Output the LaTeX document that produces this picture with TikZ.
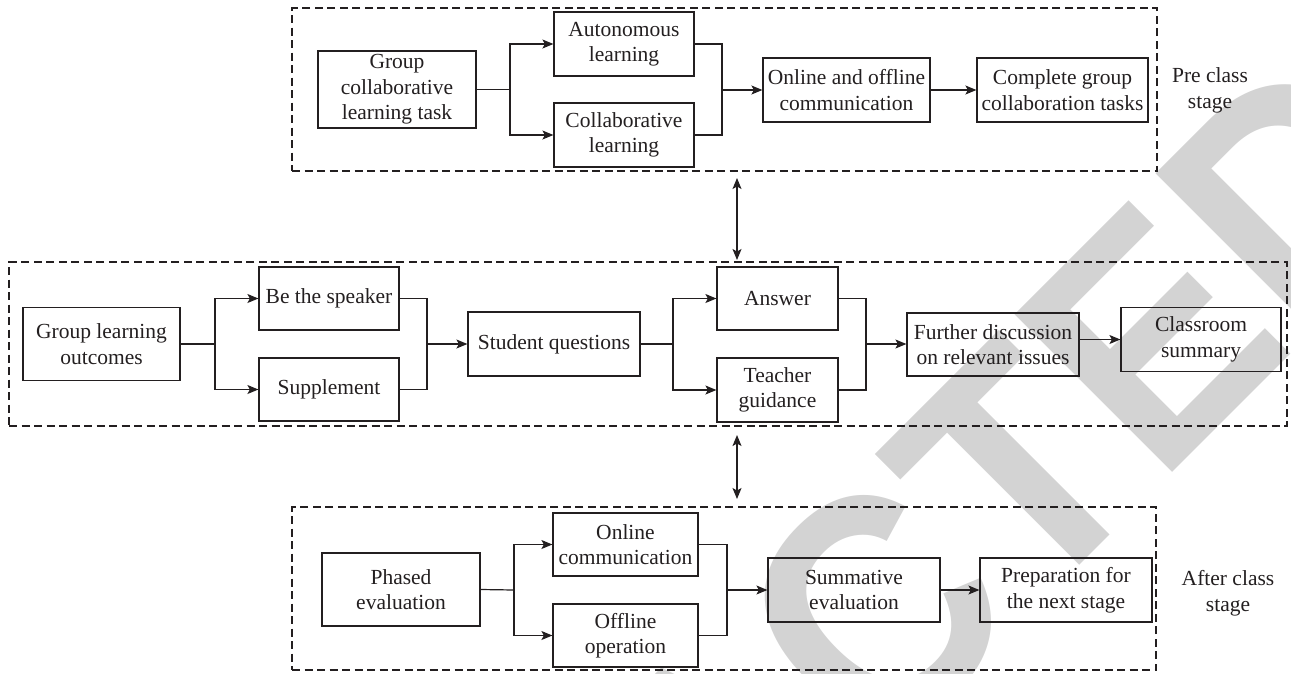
\documentclass[tikz,border=0pt]{standalone}
\usepackage{fontspec}
\setmainfont{Liberation Serif}
\newfontfamily\stampfont{Liberation Sans}[FakeStretch=0.92]
\usetikzlibrary{arrows.meta}
\definecolor{ink}{RGB}{35,31,32}
\definecolor{stampgray}{RGB}{211,211,211}
\begin{document}
\begin{tikzpicture}[x=1pt,y=-1pt,
  every node/.style={text=ink},
  box/.style={draw=ink,line width=1.2pt,inner sep=0pt,align=center,
    font=\fontsize{21.5}{25.5}\selectfont},
  label/.style={inner sep=0pt,align=center,font=\fontsize{21.5}{25.5}\selectfont},
  stagebox/.style={draw=ink,line width=1.1pt,dash pattern=on 8pt off 4.5pt,inner sep=0pt},
  line/.style={draw=ink,line width=1.2pt},
  tip/.tip={Stealth[length=11pt,width=9pt,inset=2.5pt]},
  arr/.style={line,-tip},
  darr/.style={line,tip-tip},
  stamp/.style={text=stampgray,inner sep=0pt,rotate=45,
    font=\stampfont\bfseries\fontsize{324}{324}\selectfont}]
\useasboundingbox (0,0) rectangle (1291,673);

% background stamp
\begin{scope}
  \clip (0,0) rectangle (1291,673);
  \coordinate (sp) at (1030,615);
  \node[stamp,anchor=base east] (st1) at (sp) {RETRAC};
  \node[stamp,anchor=base west] (st2) at (sp) {TED};
\end{scope}

% stage frames
\node[stagebox,minimum width=865pt,minimum height=163pt] (pre) at (724.5,89.5) {};
\node[stagebox,minimum width=1278pt,minimum height=164pt] (in) at (648,344) {};
\node[stagebox,minimum width=864pt,minimum height=163pt] (post) at (724,588.5) {};

% pre class stage
\node[box,minimum width=158pt,minimum height=77pt] (g1) at (397,89.5) {Group\\collaborative\\learning task};
\node[box,minimum width=140pt,minimum height=64pt] (a1) at (624,44) {Autonomous\\learning};
\node[box,minimum width=140pt,minimum height=64pt] (c1) at (624,135) {Collaborative\\learning};
\node[box,minimum width=167pt,minimum height=64pt] (o1) at (846.5,90) {Online and offline\\communication};
\node[box,minimum width=171pt,minimum height=64pt] (cg) at (1062.5,90) {Complete group\\collaboration tasks};
\node[label] (lpre) at (1210,90.5) {Pre class\\stage};

\coordinate (f1) at (510,89.5);
\coordinate (m1) at (722,90);
\draw[line] (g1.east) -- (f1);
\draw[arr] (f1) |- (a1.west);
\draw[arr] (f1) |- (c1.west);
\draw[line] (a1.east) -| (m1) |- (c1.east);
\draw[arr] (m1) -- (o1.west);
\draw[arr] (o1.east) -- (cg.west);

% in class stage
\node[box,minimum width=157pt,minimum height=73pt] (g2) at (101.5,344) {Group learning\\outcomes};
\node[box,minimum width=140pt,minimum height=63pt] (sp1) at (329,298.5) {Be the speaker};
\node[box,minimum width=140pt,minimum height=63pt] (su) at (329,389.5) {Supplement};
\node[box,minimum width=172pt,minimum height=64pt] (sq) at (554,344) {Student questions};
\node[box,minimum width=121pt,minimum height=63pt] (an) at (777.5,298.5) {Answer};
\node[box,minimum width=121pt,minimum height=64pt] (tg) at (777.5,390) {Teacher\\guidance};
\node[box,minimum width=172pt,minimum height=63pt] (fd) at (993,344.5) {Further discussion\\on relevant issues};
\node[box,minimum width=160pt,minimum height=64pt] (cs) at (1201,339.5) {Classroom\\summary};

\coordinate (f2) at (215,344);
\coordinate (m2) at (427,344);
\coordinate (f3) at (673,344);
\coordinate (m3) at (866,344);
\draw[line] (g2.east) -- (f2);
\draw[arr] (f2) |- (sp1.west);
\draw[arr] (f2) |- (su.west);
\draw[line] (sp1.east) -| (m2) |- (su.east);
\draw[arr] (m2) -- (sq.west);
\draw[line] (sq.east) -- (f3);
\draw[arr] (f3) |- (an.west);
\draw[arr] (f3) |- (tg.west);
\draw[line] (an.east) -| (m3) |- (tg.east);
\draw[arr] (m3) -- (fd.west |- m3);
\draw[arr] (fd.east |- cs.west) -- (cs.west);

% after class stage
\node[box,minimum width=158pt,minimum height=73pt] (pe) at (401,589.5) {Phased\\evaluation};
\node[box,minimum width=145pt,minimum height=63pt] (oc) at (625.5,544.5) {Online\\communication};
\node[box,minimum width=145pt,minimum height=63pt] (oo) at (625.5,635.5) {Offline\\operation};
\node[box,minimum width=172pt,minimum height=64pt] (se) at (854,590) {Summative\\evaluation};
\node[box,minimum width=172pt,minimum height=64pt] (pn) at (1066,590) {Preparation for\\the next stage};
\node[label] (lpost) at (1228,593) {After class\\stage};

\coordinate (f4) at (514,590);
\coordinate (m4) at (727,590);
\draw[line] (pe.east) -- (f4);
\draw[arr] (f4) |- (oc.west);
\draw[arr] (f4) |- (oo.west);
\draw[line] (oc.east) -| (m4) |- (oo.east);
\draw[arr] (m4) -- (se.west);
\draw[arr] (se.east) -- (pn.west);

% links between stages
\coordinate (d1) at (737,178);
\coordinate (d2) at (737,260);
\coordinate (d3) at (737,435);
\coordinate (d4) at (737,499);
\draw[darr] (d1) -- (d2);
\draw[darr] (d3) -- (d4);
\end{tikzpicture}
\end{document}
